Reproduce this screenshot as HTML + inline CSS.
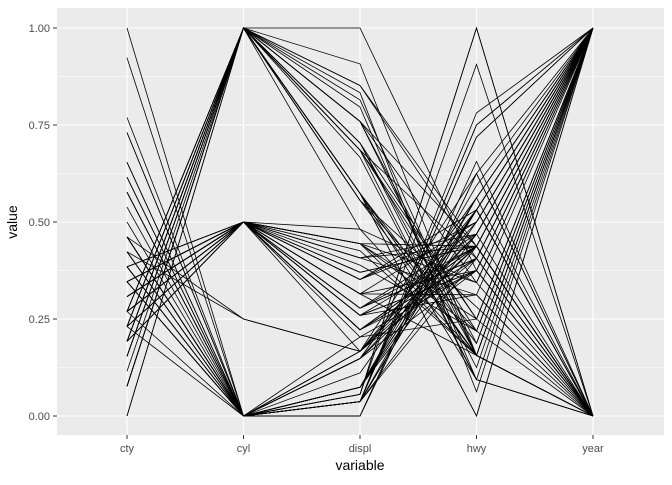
<!DOCTYPE html>
<html><head><meta charset="utf-8"><style>
body{margin:0;background:#fff;font-family:"Liberation Sans",sans-serif}
</style></head><body>
<svg id="chart" width="672" height="480" xmlns="http://www.w3.org/2000/svg">
<rect x="0" y="0" width="672" height="480" fill="#fff"/>
<rect x="57" y="8" width="607" height="427" fill="#EBEBEB"/>
<g id="grid"></g><g id="lines"></g><g id="axes"></g>
<text x="360" y="470" font-size="14" text-anchor="middle" fill="#000">variable</text>
<text transform="translate(17,222) rotate(-90)" font-size="14" text-anchor="middle" fill="#000">value</text>
</svg>
<script>
const variables=["cty","cyl","displ","hwy","year"];
const yTicks=[0,0.25,0.5,0.75,1];
const yTickLabels=["0.00","0.25","0.50","0.75","1.00"];
// rows: displ, year, cyl, cty, hwy
const displ=[1.8,1.8,2.0,2.0,2.8,2.8,3.1,1.8,1.8,2.0,2.0,2.8,2.8,3.1,2.8,3.1,4.2,5.3,5.3,5.7,6.0,5.7,5.7,6.2,6.2,7.0,5.3,6.5,2.4,2.4,3.1,3.5,3.6,2.4,3.0,3.3,3.3,3.8,4.0,3.7,4.7,5.2,5.9,4.7,4.0,4.6,4.2,5.4,3.8,4.0,4.6,5.4,1.6,1.6,1.6,1.8,1.8,1.8,2.0,2.4,2.5,3.3,2.0,2.7,4.7,6.1,3.0,2.5,3.5,3.0,3.3,3.8,5.3,2.5,2.5,2.2,3.5,1.8,1.8,1.8,4.7,5.7,2.7,4.0,1.9,1.9,1.9,2.5,2.5,2.8,3.6,2.0,4.7,4.6,5.4,4.0,3.9,4.7,2.4,3.0];
const year=[1999,1999,2008,2008,1999,1999,2008,1999,1999,2008,2008,1999,1999,2008,1999,2008,2008,2008,2008,1999,2008,1999,1999,2008,2008,2008,2008,1999,1999,2008,1999,2008,2008,1999,1999,1999,2008,1999,2008,2008,2008,1999,1999,2008,1999,2008,1999,2008,1999,2008,1999,2008,1999,1999,1999,2008,2008,2008,2008,1999,1999,2008,1999,2008,2008,2008,2008,2008,2008,1999,1999,2008,2008,2008,1999,1999,2008,1999,2008,2008,1999,2008,1999,2008,1999,1999,1999,2008,2008,1999,2008,2008,2008,1999,2008,1999,1999,2008,2008,1999];
const cyl=[4,4,4,4,6,6,6,4,4,4,4,6,6,6,6,6,8,8,8,8,8,8,8,8,8,8,8,8,4,4,6,6,6,4,6,6,6,6,6,6,8,8,8,8,6,8,6,8,6,6,8,8,4,4,4,4,4,4,4,4,6,6,4,6,8,8,6,4,6,6,6,6,8,4,4,4,6,4,4,4,8,8,4,6,4,4,4,5,5,6,6,4,8,8,8,6,6,8,4,6];
const cty=[18,21,20,21,16,18,18,18,16,20,19,15,17,17,15,17,16,14,11,13,12,16,15,16,15,15,14,14,19,22,18,18,17,18,17,16,17,15,16,15,14,11,11,9,14,13,14,13,18,17,15,14,28,24,25,26,25,24,21,18,18,19,19,17,9,11,17,23,19,18,14,17,16,20,18,21,19,24,28,26,11,13,15,16,33,35,29,21,20,16,17,21,13,15,11,15,14,14,21,18];
const hwy=[29,29,31,30,26,26,27,26,25,28,27,25,25,25,24,25,23,20,15,17,17,26,23,26,25,24,19,17,27,30,26,29,26,24,24,22,24,22,23,19,18,15,15,12,17,19,17,17,26,26,21,20,33,32,32,35,36,36,29,26,26,28,29,24,12,14,22,32,27,26,17,27,25,27,25,29,28,30,37,35,15,18,20,20,44,44,41,29,28,26,26,29,17,17,16,19,17,17,30,24];
const NS="http://www.w3.org/2000/svg";
const x0=127,dx=116.5,yTop=28,yBot=416;
const xPos=i=>x0+i*dx;
const yPos=v=>yBot-v*(yBot-yTop);
function sc(arr){const mn=Math.min(...arr),mx=Math.max(...arr);return arr.map(v=>(v-mn)/(mx-mn));}
const S={cty:sc(cty),cyl:sc(cyl),displ:sc(displ),hwy:sc(hwy),year:sc(year)};
const grid=document.getElementById('grid'),lines=document.getElementById('lines'),axes=document.getElementById('axes');
function mk(tag,attrs,parent){const e=document.createElementNS(NS,tag);for(const k in attrs)e.setAttribute(k,attrs[k]);parent.appendChild(e);return e;}
for(let i=0;i<yTicks.length-1;i++){const v=(yTicks[i]+yTicks[i+1])/2;mk('line',{x1:57,x2:664,y1:yPos(v),y2:yPos(v),stroke:'#fff','stroke-width':0.5},grid);}
yTicks.forEach((v,i)=>{
 const g=mk('line',{x1:57,x2:664,y1:yPos(v),y2:yPos(v),stroke:'#fff','stroke-width':1.1},grid);
 
 
 mk('line',{x1:53,x2:57,y1:yPos(v),y2:yPos(v),stroke:'#333','stroke-width':1},axes);
 const t=mk('text',{x:50,y:yPos(v)+4,'font-size':11,'text-anchor':'end',fill:'#4D4D4D'},axes);
 t.textContent=yTickLabels[i];
 
 
});
variables.forEach((n,i)=>{
 mk('line',{x1:xPos(i),x2:xPos(i),y1:8,y2:435,stroke:'#fff','stroke-width':1.1},grid);
 mk('line',{x1:xPos(i),x2:xPos(i),y1:435,y2:439,stroke:'#333','stroke-width':1},axes);
 const t=mk('text',{x:xPos(i),y:452,'font-size':11,'text-anchor':'middle',fill:'#4D4D4D'},axes);
 t.textContent=n;
 
 
});
for(let r=0;r<cty.length;r++){
 const pts=variables.map((n,i)=>xPos(i).toFixed(1)+','+yPos(S[n][r]).toFixed(1)).join(' ');
 const p=mk('polyline',{points:pts,fill:'none',stroke:'#000','stroke-width':0.8},lines);
 
 
}
</script>
</body></html>
